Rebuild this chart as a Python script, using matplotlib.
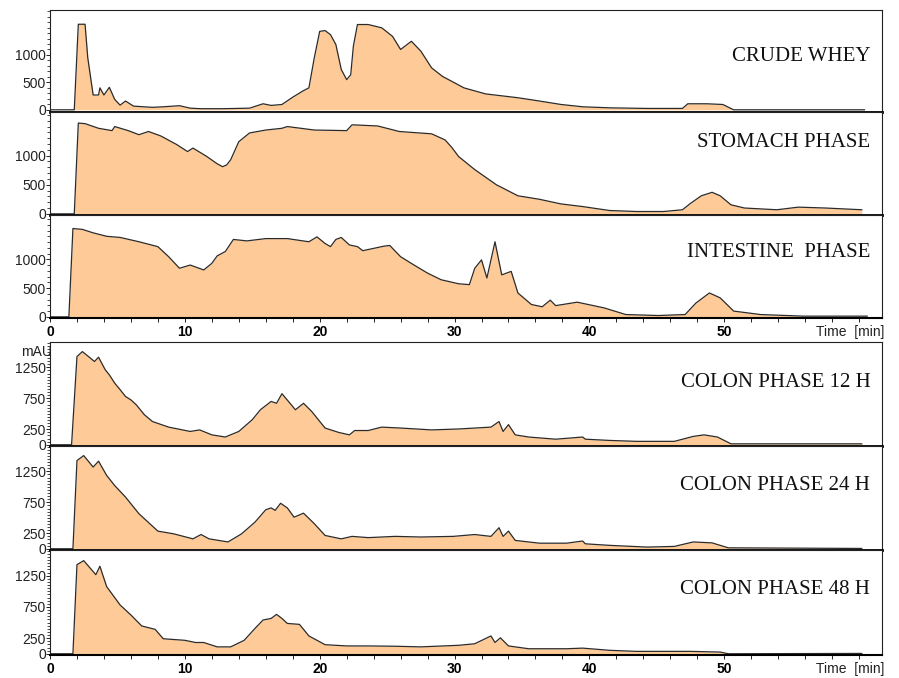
import numpy as np
import matplotlib
matplotlib.use("Agg")
import matplotlib.pyplot as plt
from matplotlib.ticker import MultipleLocator, FixedLocator, NullFormatter

# === CHROMATOGRAM TRACES (time in min, absorbance in mAU) ===
whey_t = [0, 1.8, 2.1, 2.6, 2.8, 3.2, 3.6, 3.7, 4.0, 4.4, 4.8, 5.2, 5.6, 6.2, 7.6, 8.4,
          9.6, 10.4, 11.2, 12.8, 14.8, 15.8, 16.4, 17.2, 18.0, 18.8, 19.2, 19.6, 20.0,
          20.4, 20.8, 21.2, 21.6, 22.0, 22.3, 22.5, 22.8, 23.6, 24.6, 25.4, 26.0, 26.8,
          27.5, 28.3, 29.1, 30.7, 32.3, 34.7, 36.3, 37.9, 39.5, 41.5, 44.3, 46.9, 47.3,
          48.7, 49.9, 50.7, 60.4]
whey_v = [0, 0, 1560, 1560, 950, 270, 270, 400, 270, 410, 190, 85, 160, 67, 45, 55,
          75, 30, 20, 20, 30, 110, 80, 97, 230, 350, 400, 950, 1430,
          1445, 1370, 1190, 735, 550, 640, 1165, 1555, 1555, 1495, 1340, 1100, 1250,
          1070, 765, 610, 400, 290, 220, 160, 97, 55, 36, 25, 25, 110,
          110, 97, 0, 0]

stomach_t = [0, 1.8, 2.1, 2.6, 3.6, 4.6, 4.8, 5.8, 6.6, 7.3, 8.2, 9.4, 10.2, 10.6, 11.6,
             12.4, 12.8, 13.1, 13.4, 14.0, 14.8, 16.0, 17.2, 17.6, 19.6, 22.0, 22.4, 24.3,
             25.9, 28.3, 29.3, 29.8, 30.3, 31.5, 33.1, 34.7, 36.3, 37.9, 39.5, 41.5, 43.5,
             45.5, 46.9, 47.5, 48.3, 49.1, 49.7, 50.5, 51.5, 53.9, 55.5, 57.5, 60.2]
stomach_v = [0, 0, 1560, 1550, 1470, 1430, 1500, 1430, 1360, 1415, 1340, 1190, 1070, 1130, 990,
             860, 810, 840, 930, 1240, 1390, 1440, 1470, 1500, 1440, 1430, 1530, 1510,
             1415, 1375, 1270, 1140, 985, 760, 500, 310, 250, 170, 125, 57, 40,
             40, 70, 180, 310, 370, 310, 155, 100, 70, 115, 100, 70]

intestine_t = [0, 1.4, 1.7, 2.4, 3.2, 4.2, 5.2, 6.6, 8.0, 8.8, 9.6, 10.4, 11.4, 12.0, 12.4,
               13.0, 13.6, 14.6, 16.0, 17.6, 19.2, 19.8, 20.4, 20.8, 21.2, 21.6, 22.2, 22.8,
               23.2, 24.0, 24.8, 25.2, 26.0, 27.0, 28.0, 29.0, 30.3, 31.1, 31.5, 32.0, 32.4,
               33.0, 33.5, 34.2, 34.7, 35.7, 36.5, 37.1, 37.5, 39.1, 39.9, 41.1, 42.7, 45.1,
               47.1, 47.9, 48.9, 49.7, 50.7, 52.7, 55.9, 60.6]
intestine_v = [0, 0, 1535, 1520, 1460, 1400, 1380, 1305, 1220, 1045, 845, 900, 815, 930, 1060,
               1135, 1345, 1320, 1360, 1360, 1305, 1390, 1275, 1220, 1345, 1380, 1250, 1220,
               1150, 1190, 1230, 1240, 1045, 900, 760, 645, 575, 560, 845, 990, 675,
               1305, 730, 790, 415, 215, 175, 290, 195, 255, 215, 155, 40, 23,
               40, 240, 415, 330, 100, 40, 12, 12]

colon12_t = [0, 1.6, 2.0, 2.4, 2.8, 3.3, 3.6, 4.1, 4.4, 4.8, 5.2, 5.6, 6.0, 6.4, 7.0, 7.6,
             8.8, 10.4, 11.1, 12.0, 13.0, 14.0, 15.0, 15.6, 16.4, 16.8, 17.2, 17.8, 18.2,
             18.8, 19.4, 20.4, 21.4, 22.2, 22.6, 23.6, 24.6, 26.0, 28.3, 30.3, 31.5, 32.7,
             33.3, 33.6, 34.0, 34.5, 35.5, 37.5, 39.5, 39.7, 41.5, 43.5, 46.3, 47.7, 48.5,
             49.5, 50.5, 60.2]
colon12_v = [0, 0, 1425, 1505, 1435, 1345, 1415, 1210, 1130, 995, 890, 780, 725, 645, 485, 375,
             285, 215, 240, 160, 125, 215, 405, 565, 700, 670, 825, 670, 565,
             670, 540, 270, 200, 160, 230, 230, 285, 270, 240, 255, 270, 285,
             375, 215, 325, 160, 125, 90, 125, 90, 70, 55, 55, 135, 160,
             125, 15, 15]

colon24_t = [0, 1.7, 2.0, 2.5, 3.2, 3.6, 4.2, 4.8, 5.6, 6.6, 8.0, 9.2, 10.6, 11.2, 11.8,
             13.2, 14.2, 15.2, 16.0, 16.4, 16.7, 17.1, 17.6, 18.1, 18.8, 19.6, 20.4, 21.6,
             22.4, 23.6, 25.6, 27.5, 29.9, 31.5, 32.7, 33.3, 33.6, 34.0, 34.5, 36.3, 38.3,
             39.5, 39.7, 41.5, 44.3, 46.3, 47.7, 49.1, 50.3, 60.2]
colon24_v = [0, 0, 1425, 1505, 1320, 1415, 1185, 1020, 835, 565, 285, 240, 160, 230, 160,
             110, 240, 430, 630, 660, 620, 735, 660, 510, 575, 405, 215, 160,
             200, 180, 200, 190, 200, 230, 200, 340, 200, 285, 135, 90, 90,
             125, 80, 55, 27, 38, 110, 95, 15, 5]

colon48_t = [0, 1.7, 2.0, 2.5, 3.4, 3.7, 4.2, 5.2, 6.0, 6.8, 7.8, 8.4, 10.0, 10.8, 11.4,
             12.4, 13.4, 14.4, 15.2, 15.8, 16.4, 16.8, 17.2, 17.6, 18.5, 19.2, 20.4, 22.0,
             23.6, 25.6, 27.5, 30.3, 31.5, 32.7, 33.0, 33.4, 34.0, 35.5, 38.3, 39.5, 41.5,
             43.5, 47.5, 49.7, 50.3, 60.2]
colon48_v = [0, 0, 1425, 1490, 1265, 1400, 1075, 780, 620, 445, 390, 240, 215, 180, 180,
             110, 110, 215, 405, 540, 565, 630, 565, 485, 470, 285, 145, 125,
             125, 120, 110, 135, 160, 285, 180, 255, 125, 80, 80, 90, 55,
             38, 38, 27, 0, 5]

top_names = ["CRUDE WHEY", "STOMACH PHASE", "INTESTINE  PHASE"]
bottom_names = ["COLON PHASE 12 H", "COLON PHASE 24 H", "COLON PHASE 48 H"]
top_traces = [(whey_t, whey_v), (stomach_t, stomach_v), (intestine_t, intestine_v)]
bottom_traces = [(colon12_t, colon12_v), (colon24_t, colon24_v), (colon48_t, colon48_v)]

top_yticks = [0, 500, 1000]
bottom_yticks = [0, 250, 750, 1250]
x_major = [0, 10, 20, 30, 40, 50, 60]
x_labels = ["0", "10", "20", "30", "40", "50", ""]

FILL = "#fecb98"
LINE = "#2b2b2b"
W, H = 899, 678
LEFT, RIGHT = 50, 882


def panel(fig, top_px, bottom_px):
    return fig.add_axes([LEFT / W, 1 - bottom_px / H,
                         (RIGHT - LEFT) / W, (bottom_px - top_px) / H])


def draw_trace(ax, t, v, name, ylim, yticks, minor_step, label_y):
    ax.fill_between(t, 0, v, color=FILL, linewidth=0)
    ax.plot(t, v, color=LINE, linewidth=0.9)
    ax.set_xlim(0, 61.7)
    ax.set_ylim(*ylim)
    ax.yaxis.set_major_locator(FixedLocator(yticks))
    ax.yaxis.set_minor_locator(MultipleLocator(minor_step))
    ax.tick_params(axis="y", which="major", direction="out", length=3, width=0.6,
                   pad=0, labelsize=10)
    ax.tick_params(axis="y", which="minor", direction="out", length=2, width=0.5)
    for lab in ax.get_yticklabels():
        lab.set_family("Liberation Sans")
        lab.set_color("#222222")
    for side in ["left", "right", "top"]:
        ax.spines[side].set_linewidth(0.8)
        ax.spines[side].set_color("#222222")
    ax.spines["bottom"].set_linewidth(2.0)
    ax.spines["bottom"].set_color("black")
    ax.text(0.986, label_y, name, transform=ax.transAxes, ha="right", va="center",
            fontsize=15, family="Liberation Serif", color="#111111")


def finish_time_axis(ax):
    ax.xaxis.set_major_locator(FixedLocator(x_major))
    ax.set_xticklabels(x_labels)
    ax.xaxis.set_minor_locator(MultipleLocator(2))
    ax.tick_params(axis="x", which="both", direction="out", length=3, width=0.6, pad=2,
                   labelsize=10)
    for lab in ax.get_xticklabels():
        lab.set_family("Liberation Sans")
        lab.set_fontweight("bold")
    ax.spines["bottom"].set_linewidth(1.5)
    ax.annotate("Time  [min]", xy=(1.0, 0), xycoords="axes fraction",
                xytext=(2, -10), textcoords="offset points", ha="right", va="center",
                fontsize=10, family="Liberation Sans", color="#222222")


def hide_time_axis(ax):
    ax.set_xticks([])
    ax.xaxis.set_minor_formatter(NullFormatter())


fig = plt.figure(figsize=(W / 100, H / 100), dpi=100)

# upper block: whey, stomach, intestine
top_rows = [(10, 112), (112, 215), (215, 318)]
top_ylims = [(-40, 1820), (-20, 1750), (-20, 1770)]
top_label_y = [0.54, 0.70, 0.64]
for i, ((t, v), name) in enumerate(zip(top_traces, top_names)):
    ax = panel(fig, *top_rows[i])
    draw_trace(ax, t, v, name, top_ylims[i], top_yticks, 100, top_label_y[i])
    if i < 2:
        hide_time_axis(ax)
    else:
        finish_time_axis(ax)

# lower block: colon fermentation time points
bottom_rows = [(342, 446), (446, 550), (550, 655)]
bottom_label_y = [0.61, 0.62, 0.62]
for i, ((t, v), name) in enumerate(zip(bottom_traces, bottom_names)):
    ax = panel(fig, *bottom_rows[i])
    draw_trace(ax, t, v, name, (-20, 1660), bottom_yticks, 50, bottom_label_y[i])
    if i == 0:
        ax.text(0.002, 0.905, "mAU", transform=ax.transAxes, ha="right", va="center",
                fontsize=10, family="Liberation Sans", color="#222222")
    if i < 2:
        hide_time_axis(ax)
    else:
        finish_time_axis(ax)

fig.savefig("out.png", dpi=100)
